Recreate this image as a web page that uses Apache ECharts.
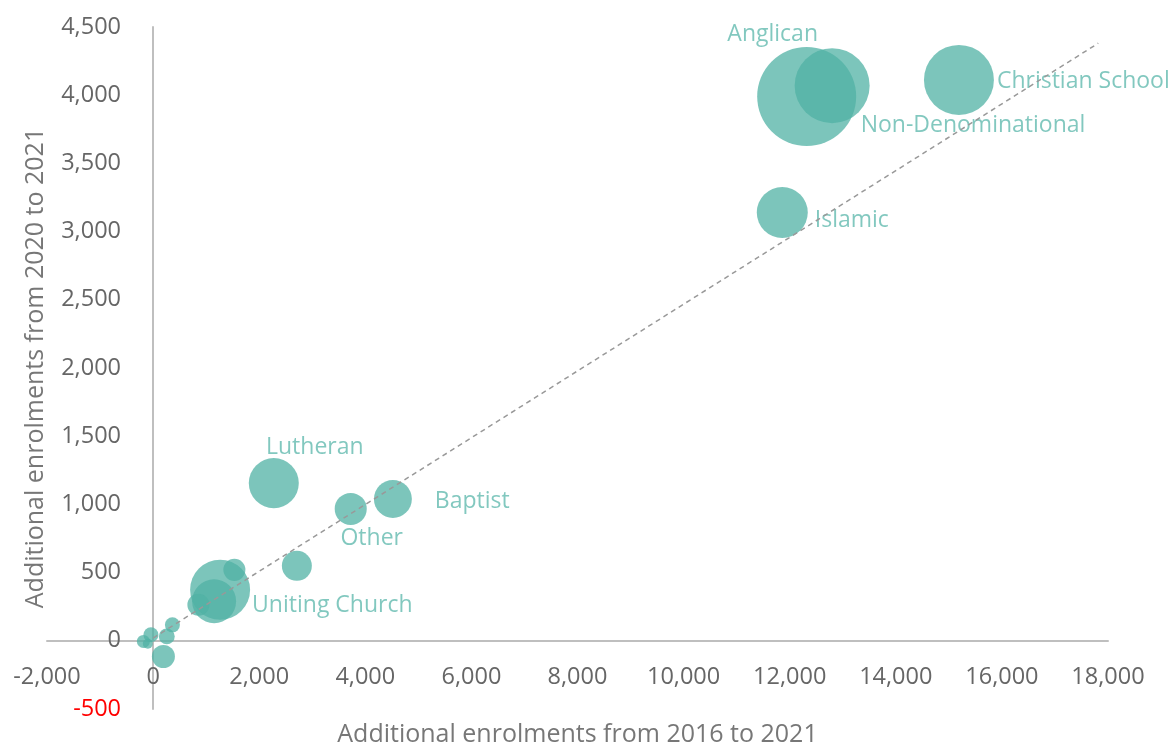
<!DOCTYPE html>
<html>
<head>
<meta charset="utf-8">
<script src="https://cdn.jsdelivr.net/npm/echarts@6/dist/echarts.min.js"></script>
<style>
html,body{margin:0;padding:0;background:#fff;}
#chart{width:1171px;height:742px;}
</style>
</head>
<body>
<div id="chart"></div>
<script>
// Data
const names   = ['Anglican','Non-Denominational','Christian School','Islamic','Lutheran','Baptist','Other','','Uniting Church','','','','','','','','',''];
const growth5 = [12320, 12800, 15190, 11860, 2275, 4520, 3725, 2710, 1263, 1150, 854, 1532, -41, -183, -100, 194, 258, 364];
const growth1 = [3990, 4070, 4112, 3140, 1156, 1040, 967, 550, 374, 290, 264, 520, 44, -5, -22, -115, 32, 117];
const sizeVal = [1089, 625, 544, 289, 278, 160, 114, 100, 400, 215, 54, 54, 25, 19, 11, 59, 28, 25];
const trendX = [0, 17816];
const trendY = [20, 4381];
const xTicks = {min: -2000, max: 18000, interval: 2000};
const yTicks = {min: -500, max: 4500, interval: 500};

const FONT = "'Open Sans', sans-serif";
const TEAL = 'rgb(80,178,164)';
const LABEL = '#58b6a9';

// label placement per named bubble
const labelPlace = {
  'Anglican': {position: 'top', offset: [-34, 4]},
  'Non-Denominational': {position: 'right', offset: [-14, 40]},
  'Christian School': {position: 'right', offset: [-2, 2]},
  'Islamic': {position: 'right', offset: [2, 8]},
  'Lutheran': {position: 'top', offset: [41, 6]},
  'Baptist': {position: 'right', offset: [18, 3]},
  'Other': {position: 'bottom', offset: [21, -3]},
  'Uniting Church': {position: 'right', offset: [-3, 16]}
};

const bubbles = names.map((n, i) => {
  const d = {value: [growth5[i], growth1[i], sizeVal[i]], name: n};
  if (n) {
    d.label = Object.assign({show: true, formatter: n}, labelPlace[n]);
  }
  return d;
});

const chart = echarts.init(document.getElementById('chart'), null, {renderer: 'canvas'});
chart.setOption({
  animation: false,
  textStyle: {fontFamily: FONT},
  grid: {left: 47, right: 63, top: 27, bottom: 33, containLabel: false, outerBoundsMode: 'none'},
  xAxis: {
    type: 'value', min: xTicks.min, max: xTicks.max, interval: xTicks.interval,
    offset: -68,
    name: 'Additional enrolments from 2016 to 2021',
    nameLocation: 'middle', nameGap: 81,
    nameTextStyle: {color: '#777', fontSize: 25, fontFamily: FONT},
    axisLine: {show: true, onZero: false, lineStyle: {color: '#bfbfbf', width: 2}},
    axisTick: {show: false},
    splitLine: {show: false},
    axisLabel: {color: '#666', fontSize: 23.5, margin: 24, fontFamily: FONT,
      formatter: v => v.toLocaleString('en-US')}
  },
  yAxis: {
    type: 'value', min: yTicks.min, max: yTicks.max, interval: yTicks.interval,
    offset: -106,
    name: 'Additional enrolments from 2020 to 2021',
    nameLocation: 'middle', nameGap: 105, nameRotate: 90,
    nameTextStyle: {color: '#777', fontSize: 25, fontFamily: FONT},
    axisLine: {show: true, onZero: false, lineStyle: {color: '#bfbfbf', width: 2}},
    axisTick: {show: false},
    splitLine: {show: false},
    axisLabel: {fontSize: 23.5, margin: 32, fontFamily: FONT,
      color: v => (v < 0 ? '#ff0000' : '#666'),
      formatter: v => v.toLocaleString('en-US')}
  },
  series: [
    {
      type: 'line',
      data: trendX.map((x, i) => [x, trendY[i]]),
      symbol: 'none',
      lineStyle: {color: '#999', width: 1.5, type: [5, 4]},
      z: 3,
      silent: true
    },
    {
      type: 'scatter',
      data: bubbles,
      symbolSize: v => Math.sqrt(v[2]) * 3,
      itemStyle: {color: TEAL, opacity: 0.75},
      label: {show: false, color: LABEL, fontSize: 23, fontFamily: FONT, distance: 5},
      z: 2
    }
  ]
});
</script>
</body>
</html>
